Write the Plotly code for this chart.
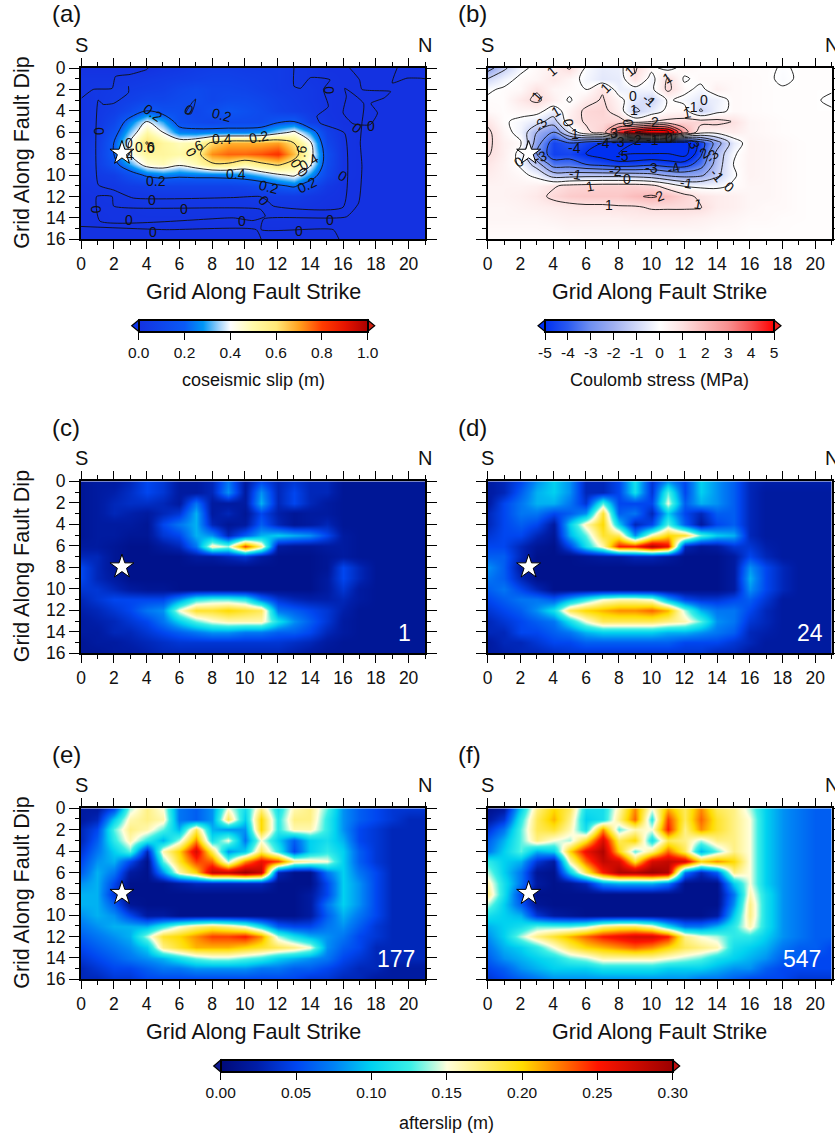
import plotly.graph_objects as go

W, H = 835, 1133
FONT = "Liberation Sans"
INK = "#111111"

strike_nodes = list(range(22))
dip_nodes = list(range(17))
strike_ticks = list(range(0, 21, 2))
dip_ticks = list(range(0, 17, 2))

slip_ticks = [0.0, 0.2, 0.4, 0.6, 0.8, 1.0]
stress_ticks = [-5, -4, -3, -2, -1, 0, 1, 2, 3, 4, 5]
after_ticks = [0.00, 0.05, 0.10, 0.15, 0.20, 0.25, 0.30]

slip_colors = [[0, "#1432e1"], [.2, "#0a5af5"], [.28, "#0096f5"], [.35, "#a0d2fa"], [.4, "#ffffff"],
               [.5, "#fffaa8"], [.6, "#ffe878"], [.7, "#ffa01e"], [.8, "#ff3c00"], [.9, "#e61400"], [1, "#aa0000"]]
stress_colors = [[0, "#0030f0"], [.1, "#2a5af0"], [.2, "#7090f0"], [.3, "#a0b0f0"], [.4, "#d0d8f8"], [.5, "#ffffff"],
                 [.6, "#fde0e0"], [.7, "#fbb8b8"], [.8, "#f89090"], [.9, "#f85050"], [1, "#ff0000"]]
after_colors = [[0, "#000a78"], [.08, "#001ea8"], [1/6, "#0046f0"], [.25, "#0082f5"], [1/3, "#00d2f0"],
                [.42, "#3cf0e6"], [.5, "#ffffdc"], [2/3, "#ffdc00"], [5/6, "#ff1500"], [1, "#9a0000"]]

slip = [
 [.00,.00,.00,.00,.00,.02,.03,.05,.06,.06,.05,.05,.05,.03,.02,.00,.00,.00,.00,.00,.00,.00],
 [.02,.02,.02,.03,.04,.05,.06,.07,.08,.08,.07,.06,.05,.03,.02,.01,.00,.00,.00,.00,.00,.00],
 [.02,.03,.04,.05,.06,.07,.10,.12,.10,.10,.09,.07,.05,.04,.03,.01,.00,.00,.00,.00,.00,.00],
 [.01,.03,.05,.07,.10,.10,.12,.13,.10,.12,.12,.10,.07,.05,.03,.01,.00,.00,.00,.00,.00,.00],
 [.01,.03,.06,.12,.20,.15,.14,.10,.14,.18,.15,.12,.08,.06,.04,.01,.00,.00,.00,.00,.00,.00],
 [.01,.03,.10,.25,.40,.30,.15,.12,.10,.12,.12,.12,.18,.20,.07,.02,.00,.00,.00,.00,.00,.00],
 [.01,.04,.15,.33,.50,.40,.25,.24,.25,.25,.25,.27,.35,.42,.28,.07,.01,.00,.00,.00,.00,.00],
 [.02,.05,.20,.42,.61,.52,.48,.50,.62,.68,.68,.68,.70,.60,.42,.10,.01,.00,.00,.00,.00,.00],
 [.02,.06,.20,.42,.52,.52,.50,.55,.72,.76,.76,.78,.82,.66,.45,.14,.01,.00,.00,.00,.00,.00],
 [.02,.06,.16,.30,.45,.48,.42,.48,.58,.58,.50,.57,.62,.55,.42,.13,.01,.00,.00,.00,.00,.00],
 [.02,.04,.06,.14,.22,.25,.23,.24,.24,.25,.27,.32,.38,.42,.28,.10,.01,.00,.00,.00,.00,.00],
 [.01,.02,.03,.05,.06,.08,.08,.08,.08,.08,.09,.12,.18,.22,.12,.03,.00,.00,.00,.00,.00,.00],
 [.00,.01,.02,.02,.03,.03,.03,.03,.03,.03,.03,.04,.05,.05,.03,.01,.00,.00,.00,.00,.00,.00],
 [.00,.01,.01,.01,.02,.02,.02,.02,.02,.02,.02,.02,.02,.02,.01,.00,.00,.00,.00,.00,.00,.00],
 [.00,.00,.01,.01,.01,.01,.01,.01,.01,.01,.01,.01,.01,.01,.00,.00,.00,.00,.00,.00,.00,.00],
 [.00,.00,.00,.00,.00,.00,.00,.00,.00,.00,.00,.00,.00,.00,.00,.00,.00,.00,.00,.00,.00,.00],
 [.00,.00,.00,.00,.00,.00,.00,.00,.00,.00,.00,.00,.00,.00,.00,.00,.00,.00,.00,.00,.00,.00],
]

stress = [
 [-2.5,-1.2,-.2,.2,.5,1.1,-.1,-.5,-.4,1.1,.2,-.3,.3,.1,.1,.1,.1,.1,-.05,.05,.05,.05],
 [-1.0,-.3,.15,.3,.7,.3,-.2,-.6,-.5,.9,-.3,1.1,-.1,.2,.2,.2,.15,.1,-.1,.05,.05,.05],
 [-.1,.1,.2,.9,.3,.2,.0,.9,-.4,-.3,-.2,1.2,.2,-.2,.5,.2,.15,.1,.05,.05,.05,.05],
 [.1,.1,.7,1.2,.5,-.1,.6,1.1,.3,-.6,-1.1,.1,-.2,-.6,-.4,.2,.15,.1,.05,.05,.05,-.1],
 [.2,.1,.3,.3,-.4,.4,1.2,1.3,.5,-1.2,-.5,.2,.3,-1.1,-.3,.2,.15,.1,.05,.05,.05,.05],
 [.8,.1,-.2,-.6,-1.5,.6,1.1,1.2,1.4,.6,1.0,1.2,1.3,1.3,1.3,.95,.3,.2,.1,.05,.05,.05],
 [1.2,.3,-.3,-2,-3,-.8,.8,1.4,4.5,6,7,6.5,2.5,.4,.3,.6,.3,.2,.1,.05,.05,.05],
 [1.2,.5,.1,-2.5,-4.5,-4,-4.5,-5,-5.5,-6,-6.5,-6.5,-6.5,-4.5,-2.5,-.5,.4,.3,.2,.1,.05,.05],
 [1.1,.5,-.2,-3,-4.6,-4.5,-5,-5.5,-6,-6,-6,-6,-6.5,-4.2,-1.7,-.1,.4,.3,.2,.1,.05,.05],
 [.8,.4,-.1,-1.5,-3.5,-3.5,-4.0,-4.3,-4.6,-4.5,-4.2,-4.5,-4.5,-3.5,-1.5,.0,.4,.3,.2,.1,.05,.05],
 [.6,.4,.2,-.2,-1.5,-1.5,-1.4,-1.4,-1.4,-1.5,-1.7,-2.2,-2.4,-2.2,-1.2,-.1,.4,.3,.2,.1,.05,.05],
 [.4,.4,.4,.5,.9,1.2,1.3,1.4,1.4,1.4,1.2,.6,-.1,-.2,-.2,.1,.3,.3,.2,.1,.05,.05],
 [.4,.4,.5,.7,1.2,1.5,1.6,1.6,1.6,1.9,2.1,1.8,1.3,.8,.6,.5,.3,.3,.2,.1,.05,.05],
 [.3,.3,.4,.5,.6,.7,.8,.8,.9,.9,1.1,1.1,1.1,1.05,.6,.5,.3,.2,.2,.1,.05,.05],
 [.3,.3,.3,.3,.4,.5,.5,.5,.5,.6,.6,.6,.6,.5,.4,.3,.2,.2,.1,.1,.05,.05],
 [.2,.2,.2,.2,.2,.3,.3,.3,.3,.3,.3,.3,.3,.3,.2,.2,.1,.1,.1,.05,.05,.05],
 [.1,.1,.1,.1,.1,.1,.2,.2,.2,.2,.2,.2,.1,.1,.1,.1,.1,.05,.05,.05,.05,.05],
]

after_1 = [
 [.015,.02,.02,.03,.05,.04,.02,.02,.03,.07,.02,.05,.03,.04,.03,.03,.015,.015,.015,.015,.015,.015],
 [.015,.02,.025,.035,.05,.04,.02,.02,.03,.08,.02,.08,.03,.05,.03,.03,.015,.015,.015,.015,.015,.015],
 [.015,.02,.03,.035,.035,.03,.02,.07,.02,.02,.02,.09,.03,.05,.03,.02,.015,.015,.015,.015,.015,.015],
 [.015,.02,.03,.025,.02,.03,.04,.09,.02,.03,.015,.05,.025,.015,.02,.02,.015,.015,.015,.015,.015,.015],
 [.015,.02,.02,.02,.015,.05,.07,.09,.03,.015,.02,.06,.03,.015,.02,.03,.015,.015,.015,.015,.015,.015],
 [.015,.02,.02,.015,.015,.04,.05,.09,.08,.03,.06,.09,.10,.09,.08,.05,.02,.015,.015,.015,.015,.015],
 [.02,.02,.015,.01,.01,.02,.03,.07,.16,.14,.24,.17,.02,.015,.015,.02,.02,.015,.015,.015,.015,.015],
 [.03,.03,.015,.01,.01,.01,.01,.02,.02,.03,.04,.02,.01,.01,.01,.015,.02,.015,.015,.015,.015,.015],
 [.05,.03,.015,.01,.01,.01,.01,.01,.01,.01,.01,.01,.01,.01,.01,.015,.05,.03,.015,.015,.015,.015],
 [.05,.03,.02,.01,.01,.01,.01,.01,.01,.01,.01,.01,.01,.01,.01,.02,.05,.03,.015,.015,.015,.015],
 [.04,.04,.03,.02,.015,.015,.01,.01,.01,.01,.01,.01,.01,.01,.01,.02,.04,.02,.015,.015,.015,.015],
 [.03,.04,.05,.05,.05,.05,.08,.12,.13,.13,.12,.07,.04,.03,.025,.025,.03,.02,.015,.015,.015,.015],
 [.025,.03,.04,.05,.07,.08,.15,.19,.19,.20,.19,.18,.07,.06,.05,.04,.025,.015,.015,.015,.015,.015],
 [.02,.025,.03,.04,.05,.07,.10,.13,.15,.16,.16,.16,.11,.08,.06,.04,.02,.015,.015,.015,.015,.015],
 [.02,.02,.03,.03,.04,.05,.06,.07,.08,.08,.07,.07,.06,.06,.05,.03,.02,.015,.015,.015,.015,.015],
 [.015,.02,.02,.025,.03,.035,.04,.04,.04,.04,.04,.04,.04,.035,.03,.02,.015,.015,.015,.015,.015,.015],
 [.015,.015,.02,.02,.025,.03,.03,.03,.03,.03,.03,.03,.03,.025,.02,.015,.015,.015,.015,.015,.015,.015],
]

after_24 = [
 [.02,.03,.05,.08,.10,.08,.03,.03,.05,.11,.04,.08,.05,.10,.08,.06,.03,.025,.025,.025,.025,.025],
 [.02,.03,.06,.09,.10,.08,.03,.03,.05,.11,.04,.13,.05,.10,.08,.06,.03,.02,.02,.02,.02,.02],
 [.02,.05,.07,.09,.09,.07,.04,.13,.05,.05,.05,.15,.06,.09,.08,.06,.03,.02,.02,.02,.02,.02],
 [.03,.05,.07,.07,.05,.06,.08,.19,.06,.07,.03,.10,.05,.03,.06,.06,.03,.02,.02,.02,.02,.02],
 [.03,.05,.06,.05,.02,.10,.16,.20,.10,.03,.05,.13,.06,.02,.05,.06,.03,.02,.02,.02,.02,.02],
 [.04,.05,.05,.03,.015,.09,.13,.19,.18,.08,.16,.20,.19,.13,.10,.09,.03,.02,.02,.02,.02,.02],
 [.05,.05,.03,.015,.01,.05,.11,.16,.25,.25,.29,.26,.03,.015,.02,.04,.04,.025,.02,.02,.02,.02],
 [.06,.06,.03,.01,.01,.01,.015,.02,.02,.03,.03,.02,.01,.01,.01,.02,.05,.03,.02,.02,.02,.02],
 [.08,.06,.02,.01,.01,.01,.01,.01,.01,.01,.01,.01,.01,.01,.01,.02,.08,.05,.03,.02,.02,.02],
 [.07,.06,.03,.01,.01,.01,.01,.01,.01,.01,.01,.01,.01,.01,.01,.02,.09,.05,.03,.02,.02,.02],
 [.06,.07,.05,.03,.01,.01,.01,.01,.01,.01,.01,.01,.01,.01,.01,.02,.08,.05,.03,.02,.02,.02],
 [.05,.06,.07,.07,.06,.09,.12,.15,.16,.16,.15,.09,.05,.04,.04,.05,.06,.04,.02,.02,.02,.02],
 [.04,.05,.06,.08,.11,.18,.20,.21,.22,.22,.23,.21,.14,.09,.07,.07,.05,.03,.02,.02,.02,.02],
 [.03,.04,.05,.06,.07,.11,.15,.18,.18,.18,.18,.17,.16,.13,.08,.07,.04,.03,.02,.02,.02,.02],
 [.03,.03,.05,.05,.06,.07,.09,.10,.10,.10,.10,.09,.09,.08,.07,.06,.03,.025,.02,.02,.02,.02],
 [.02,.03,.03,.04,.05,.05,.06,.06,.06,.06,.06,.06,.05,.05,.05,.04,.03,.02,.02,.02,.02,.02],
 [.02,.025,.03,.03,.035,.04,.04,.04,.04,.04,.04,.04,.04,.04,.03,.03,.02,.02,.02,.02,.02,.02],
]

after_177 = [
 [.02,.02,.05,.14,.17,.15,.07,.06,.08,.15,.11,.17,.11,.16,.17,.13,.08,.06,.05,.04,.04,.04],
 [.02,.03,.10,.16,.17,.16,.07,.06,.08,.18,.10,.20,.12,.17,.17,.12,.08,.06,.05,.04,.03,.03],
 [.03,.05,.13,.17,.16,.13,.09,.18,.09,.08,.08,.20,.12,.16,.16,.12,.08,.05,.04,.03,.03,.03],
 [.03,.06,.12,.16,.12,.09,.14,.22,.11,.15,.07,.15,.10,.06,.10,.11,.09,.05,.04,.03,.03,.03],
 [.04,.07,.10,.13,.03,.16,.20,.27,.18,.08,.10,.18,.12,.05,.10,.12,.10,.06,.04,.03,.03,.03],
 [.05,.08,.09,.05,.01,.13,.19,.24,.23,.14,.22,.26,.24,.17,.16,.15,.10,.06,.04,.03,.03,.03],
 [.06,.09,.07,.02,.01,.08,.16,.20,.28,.28,.30,.28,.03,.01,.01,.07,.10,.07,.05,.03,.03,.03],
 [.08,.09,.05,.01,.01,.01,.02,.03,.03,.03,.03,.03,.01,.01,.01,.05,.10,.08,.05,.03,.03,.03],
 [.09,.09,.04,.01,.01,.01,.01,.01,.01,.01,.01,.01,.01,.01,.02,.05,.10,.08,.05,.03,.03,.03],
 [.09,.09,.06,.015,.01,.01,.01,.01,.01,.01,.01,.01,.01,.01,.02,.07,.10,.08,.05,.03,.03,.03],
 [.08,.09,.08,.05,.02,.02,.01,.01,.01,.01,.01,.01,.01,.01,.02,.06,.09,.07,.05,.03,.03,.03],
 [.07,.08,.09,.09,.09,.12,.15,.17,.18,.17,.15,.11,.06,.05,.05,.07,.08,.06,.04,.03,.03,.03],
 [.06,.07,.08,.09,.14,.19,.20,.22,.24,.24,.25,.22,.14,.11,.09,.08,.07,.05,.04,.03,.03,.03],
 [.05,.06,.07,.08,.10,.17,.19,.21,.21,.21,.20,.19,.18,.17,.15,.08,.06,.05,.03,.03,.03,.03],
 [.04,.05,.06,.07,.08,.09,.11,.13,.14,.14,.13,.12,.10,.09,.08,.07,.05,.04,.03,.03,.03,.03],
 [.03,.04,.05,.05,.06,.07,.07,.08,.08,.08,.08,.07,.07,.06,.06,.05,.04,.03,.03,.02,.02,.02],
 [.03,.03,.04,.04,.05,.05,.05,.05,.05,.05,.05,.05,.05,.05,.04,.04,.03,.03,.02,.02,.02,.02],
]

after_547 = [
 [.01,.02,.10,.17,.20,.18,.11,.11,.16,.22,.15,.21,.18,.22,.18,.17,.14,.10,.08,.07,.06,.06],
 [.02,.04,.12,.18,.21,.17,.10,.11,.17,.23,.12,.24,.18,.23,.19,.17,.15,.10,.08,.07,.06,.06],
 [.04,.07,.13,.18,.19,.16,.11,.22,.13,.16,.15,.25,.17,.22,.19,.17,.15,.10,.08,.07,.06,.06],
 [.06,.09,.13,.17,.15,.14,.19,.27,.18,.20,.11,.18,.17,.14,.17,.17,.15,.10,.08,.07,.06,.06],
 [.07,.10,.13,.09,.10,.20,.26,.29,.20,.13,.17,.23,.18,.09,.13,.17,.15,.10,.08,.07,.06,.06],
 [.12,.10,.09,.04,.02,.16,.23,.28,.27,.19,.27,.28,.27,.20,.22,.20,.15,.10,.08,.07,.06,.06],
 [.14,.10,.07,.015,.01,.10,.18,.25,.29,.29,.30,.29,.07,.03,.06,.17,.15,.10,.08,.07,.06,.06],
 [.16,.11,.07,.02,.01,.015,.03,.08,.09,.09,.09,.07,.01,.01,.01,.10,.15,.10,.08,.07,.06,.06],
 [.17,.11,.05,.01,.01,.01,.01,.01,.01,.01,.01,.01,.01,.01,.01,.07,.16,.11,.08,.07,.06,.06],
 [.14,.10,.06,.015,.01,.01,.01,.01,.01,.01,.01,.01,.01,.01,.01,.08,.17,.11,.08,.07,.06,.06],
 [.11,.10,.09,.04,.02,.015,.01,.01,.01,.01,.01,.01,.01,.01,.02,.10,.17,.11,.08,.07,.06,.06],
 [.09,.10,.11,.13,.13,.13,.14,.17,.18,.18,.16,.11,.07,.07,.09,.12,.16,.11,.08,.07,.06,.06],
 [.08,.10,.14,.17,.19,.21,.23,.25,.26,.27,.27,.25,.17,.15,.14,.12,.12,.10,.08,.07,.06,.06],
 [.07,.09,.10,.12,.15,.18,.20,.21,.22,.23,.22,.20,.18,.17,.16,.11,.10,.09,.07,.06,.06,.05],
 [.06,.08,.09,.10,.11,.13,.14,.16,.16,.16,.16,.15,.14,.13,.11,.10,.09,.08,.06,.06,.05,.05],
 [.05,.06,.08,.09,.10,.10,.10,.11,.11,.11,.11,.10,.10,.10,.09,.08,.08,.06,.05,.05,.05,.05],
 [.04,.05,.06,.07,.08,.08,.08,.08,.08,.08,.08,.08,.08,.07,.07,.06,.05,.05,.05,.04,.04,.04],
]

# Zero-slip contour of panel (a)
zero_a_1x = [0.04,.75,1.9,2.1,3,4,4.1]
zero_a_1y = [2.8,2,1.9,.8,.6,.15,0]
zero_a_2x = [2.9,2.9,2,1.35,1.05,1.05,2,3.2,9.3,10.9,11.3,11.75,16,16.1,14.6,14.4,15.1,14.8,15.2,14,13.4,13,13]
zero_a_2y = [1.7,2.3,3.3,3.4,3,10.9,11.4,12.15,12.1,12,12.3,12.9,13,6.1,5.15,4.5,3.6,2,1.1,.9,1.9,1.7,0]
zero_a_3x = [16.4,17,17.15,18.9,18.5,17.7,18.1,17.65,16.6,16,16.2,16.1,17.25,17.15,17.05,17.15,16.95,16.2,11.15,11,15.4,15.75]
zero_a_3y = [0,1.1,2,2.2,2.8,3.3,4.2,5.3,5.2,4.2,2.65,1.9,3.3,5.15,7,9.2,12.6,13.9,14.1,15.1,15.1,16]
zero_a_4x = [19.3,19,19.9,20.7,21]
zero_a_4y = [0,1.4,.95,.95,1]
zero_a_5x = [.95,1.9,2,10.95,11.25,10.5,9.3,1.15,.95]
zero_a_5y = [12,12,12.9,13.2,13.85,14.25,14,14.3,12]
zero_a_6x = [0,5.2,10.7,11]
zero_a_6y = [14.8,15.1,15.1,16]
zero_a_7x = [6.4,6.7,6.9,7,6.8,6.4]
zero_a_7y = [4.2,4.3,3.6,2.9,3.2,4.2]
zero_a_lines = [(zero_a_1x, zero_a_1y), (zero_a_2x, zero_a_2y), (zero_a_3x, zero_a_3y), (zero_a_4x, zero_a_4y),
                (zero_a_5x, zero_a_5y), (zero_a_6x, zero_a_6y), (zero_a_7x, zero_a_7y)]

labels_a = [("0.2",4.4,4.2,35),("0",1.1,5.9,90),("0",.9,13.2,90),("0",2.9,14.2,0),("0",4.35,12.35,0),("0",6.3,13.2,0),
            ("0",4.4,15.3,0),("0",9.8,14.25,0),("0",11.2,12.4,50),("0",13.3,15.2,0),("0",15.2,14.2,0),("0",16,10.05,30),
            ("0",16.85,5.6,40),("0",17.7,5.4,0),("0",15.1,2.1,90),("0",6.6,3.9,30),("0.2",8.6,4.4,15),("0.2",4.55,10.6,0),
            ("0.4",9.45,9.9,0),("0.2",11.5,11.1,15),("0.2",13.8,10.9,-25),("0.4",13.9,8.8,-30),("0",13.55,9.7,50),("0",13.1,8.9,60),
            (".6",13.4,7.8,-80),("0.4",8.6,6.6,0),("0.2",10.85,6.45,-10),(".6",7.1,7.3,-20),("0",6.75,7.8,60),("0.6",3.9,7.4,0),
            ("0",4.3,7.5,0),("0",2.9,7,0),("4",3,8.1,0)]
labels_b = [("1",3.9,.3,-40),("1",8.7,.3,-40),("1",10.95,.9,-30),("1",7.2,1.9,-45),("1",3,2.65,-50),("0",8.9,2.65,0),("-1",9.85,3,40),
            ("1",8.95,3.9,0),("0",13.2,3,0),("-1",12.45,3.6,0),("1",12.15,4.2,-10),("1",4.2,4.05,-30),("0",4.95,5.1,80),("1",5.35,6.2,0),
            ("-3",3.2,5.3,-60),("0",8.6,5.1,90),("2",10.2,5,0),("-4",5.3,7.5,0),("-4",7.1,7.05,0),("-3",8,6.95,0),("-2",9.05,6.7,0),
            ("-1",10.05,6.7,0),("0",11.05,6.55,0),("3",7.7,6.1,0),("3",12.65,7.15,70),("-5",8.2,8.2,0),("-3",3.2,8.3,-20),("0",1.9,8.8,-40),
            ("2",13.2,7.9,-30),("-3",13.7,8.25,-50),("-1",5.35,9.9,10),("-2",7.8,9.65,0),("-3",10,9.3,0),("-4",11.35,9.3,-15),
            ("-1",12.15,10.75,10),("-1",14,10,50),("0",8.5,10.35,0),("0",14.75,11.15,40),("1",6.25,11,-10),("2",10.5,12,-20),
            ("1",7.4,12.8,0),("1",12.85,12.7,10)]

panel_tags = ["(a)", "(b)", "(c)", "(d)", "(e)", "(f)"]
day_tags = [None, None, "1", "24", "177", "547"]
day_tag_x = [None, None, 404, 810, 396, 802]
star_x = [2.5]
star_y = [7.95]

# layout in pixels
cols = [(81.0, 425.0), (487.7, 831.7)]
rows = [(68.0, 239.3), (481.3, 653.3), (808.3, 979.3)]
px = lambda v: v / W
py = lambda v: 1 - v / H

fig = go.Figure()
annos, shapes = [], []

def text(t, x, y, size, angle=0, color=INK, xanchor="center", yanchor="middle"):
    annos.append(dict(text=t, x=px(x), y=py(y), xref="paper", yref="paper", showarrow=False, textangle=angle,
                      font=dict(family=FONT, size=size, color=color), xanchor=xanchor, yanchor=yanchor))

grids = [slip, stress, after_1, after_24, after_177, after_547]
caxes = ["coloraxis", "coloraxis2", "coloraxis3", "coloraxis3", "coloraxis3", "coloraxis3"]

for i, grid in enumerate(grids):
    n = i + 1
    r, c = i // 2, i % 2
    xa, ya = f"x{n}", f"y{n}"
    fig.add_trace(go.Heatmap(x=strike_nodes, y=dip_nodes, z=grid, zsmooth="best", coloraxis=caxes[i],
                             xaxis=xa, yaxis=ya, hoverinfo="skip"))
    if i == 0:
        fig.add_trace(go.Contour(x=strike_nodes, y=dip_nodes, z=grid, xaxis=xa, yaxis=ya, showscale=False,
                                 contours=dict(coloring="none", start=.2, end=.6, size=.2),
                                 line=dict(color="#111111", width=.9, smoothing=1), hoverinfo="skip"))
        for lx, ly in zero_a_lines:
            fig.add_trace(go.Scatter(x=lx, y=ly, mode="lines", line=dict(color="#111111", width=.9, shape="spline", smoothing=.5),
                                     xaxis=xa, yaxis=ya, showlegend=False, hoverinfo="skip"))
    if i == 1:
        fig.add_trace(go.Contour(x=strike_nodes, y=dip_nodes, z=grid, xaxis=xa, yaxis=ya, showscale=False,
                                 contours=dict(coloring="none", start=-7, end=7, size=1),
                                 line=dict(color="#111111", width=.9, smoothing=1), hoverinfo="skip"))
    fig.add_trace(go.Scatter(x=star_x, y=star_y, mode="markers", xaxis=xa, yaxis=ya, showlegend=False, hoverinfo="skip",
                             marker=dict(symbol="star", size=18, color="white", line=dict(color="black", width=1))))
    common = dict(showline=True, linewidth=2, linecolor="black", mirror="ticks", ticks="outside", tickwidth=1.2,
                  tickcolor="black", showgrid=False, zeroline=False,
                  tickfont=dict(family=FONT, size=17.5, color=INK))
    x0, x1 = cols[c]
    y0, y1 = rows[r]
    fig.update_layout({
        f"xaxis{n}": dict(domain=[px(x0), px(x1)], range=[0, 21], anchor=ya, tickmode="array", tickvals=strike_ticks,
                          ticklen=8, minor=dict(ticks="outside", dtick=1, ticklen=4, tickwidth=1.2, tickcolor="black"), **common),
        f"yaxis{n}": dict(domain=[py(y1), py(y0)], range=[16, 0], anchor=xa, tickmode="array", tickvals=dip_ticks,
                          ticklen=10, showticklabels=(c == 0),
                          minor=dict(ticks="outside", dtick=1, ticklen=4, tickwidth=1.2, tickcolor="black"), **common),
    })
    tag_x = 50 if c == 0 else 456
    text(panel_tags[i], tag_x, y0 - 54, 24, xanchor="left")
    text("S", x0, y0 - 23, 20)
    text("N", x1, y0 - 23, 20)
    if c == 0:
        text("Grid Along Fault Dip", 22, (y0 + y1) / 2 - 1, 21.5, angle=-90)
    if r != 1:
        text("Grid Along Fault Strike", (x0 + x1) / 2, y1 + 52.5, 21.5)
    if day_tags[i]:
        text(day_tags[i], day_tag_x[i], y1 - 20, 23, color="white")

for t, lx, ly, ang in labels_a:
    annos.append(dict(text=t, x=lx, y=ly, xref="x1", yref="y1", showarrow=False, textangle=ang,
                      font=dict(family=FONT, size=14, color=INK)))
for t, lx, ly, ang in labels_b:
    annos.append(dict(text=t, x=lx, y=ly, xref="x2", yref="y2", showarrow=False, textangle=ang,
                      font=dict(family=FONT, size=14, color=INK)))

def cbar(left, right, top, bottom, ticks, fmt, title, title_y, low, high):
    length = right - left
    for v in ticks:
        xp = left + (v - ticks[0]) / (ticks[-1] - ticks[0]) * length
        shapes.append(dict(type="line", xref="paper", yref="paper", x0=px(xp), x1=px(xp), y0=py(top), y1=py(bottom),
                           line=dict(color="black", width=1.2)))
    mid = (top + bottom) / 2
    shapes.append(dict(type="path", xref="paper", yref="paper", fillcolor=low, line=dict(color="black", width=1.2),
                       path=f"M {px(left)} {py(top)} L {px(left-7)} {py(mid)} L {px(left)} {py(bottom)} Z"))
    shapes.append(dict(type="path", xref="paper", yref="paper", fillcolor=high, line=dict(color="black", width=1.2),
                       path=f"M {px(right)} {py(top)} L {px(right+7)} {py(mid)} L {px(right)} {py(bottom)} Z"))
    text(title, (left + right) / 2, title_y, 18)
    return dict(orientation="h", x=px(left), xanchor="left", xpad=0, y=py(top), yanchor="top", ypad=0,
                lenmode="pixels", len=length, thicknessmode="pixels", thickness=bottom - top,
                outlinecolor="black", outlinewidth=2, ticks="outside", ticklen=7, tickwidth=1.2, tickcolor="black",
                tickmode="array", tickvals=ticks, ticktext=[format(v, fmt) for v in ticks],
                tickfont=dict(family=FONT, size=15.5, color=INK))

fig.update_layout(
    width=W, height=H, autosize=False, margin=dict(l=0, r=0, t=0, b=0, autoexpand=False), showlegend=False,
    paper_bgcolor="white", plot_bgcolor="white", font=dict(family=FONT, color=INK),
    coloraxis=dict(cmin=0, cmax=1, colorscale=slip_colors,
                   colorbar=cbar(138.7, 367.7, 320, 331.5, slip_ticks, ".1f", "coseismic slip (m)", 380, "#0a32e6", "#d02010")),
    coloraxis2=dict(cmin=-5, cmax=5, colorscale=stress_colors,
                    colorbar=cbar(545, 774, 320, 331.5, stress_ticks, "d", "Coulomb stress (MPa)", 380, "#0030f0", "#f02020")),
    coloraxis3=dict(cmin=0, cmax=.3, colorscale=after_colors,
                    colorbar=cbar(220.7, 672.7, 1060, 1072, after_ticks, ".2f", "afterslip (m)", 1123, "#101a90", "#c01010")),
)
fig.update_layout(annotations=annos, shapes=shapes)
fig.write_html("out.html", config=dict(displayModeBar=False),
               post_script="document.body.style.margin='0';document.body.style.overflow='hidden';")
